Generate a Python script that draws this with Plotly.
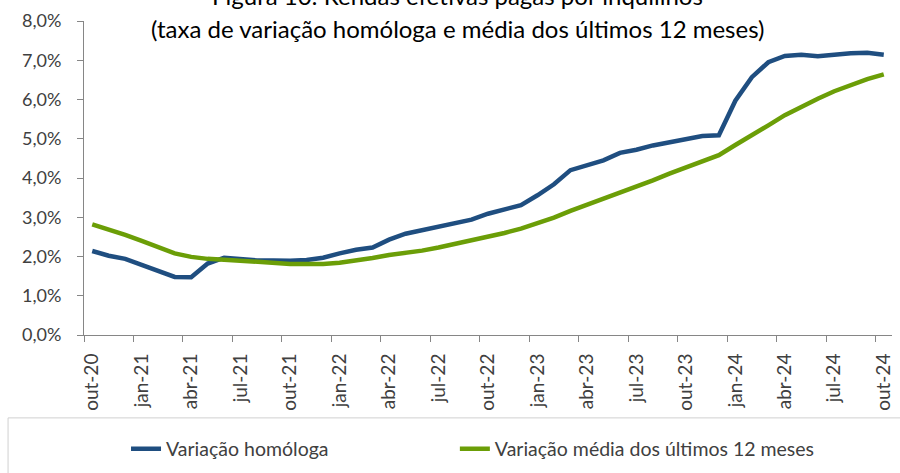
import plotly.graph_objects as go

# ── Data ──────────────────────────────────────────────────────────
months = [
    "out-20", "nov-20", "dez-20", "jan-21", "fev-21", "mar-21", "abr-21", "mai-21", "jun-21",
    "jul-21", "ago-21", "set-21", "out-21", "nov-21", "dez-21", "jan-22", "fev-22", "mar-22",
    "abr-22", "mai-22", "jun-22", "jul-22", "ago-22", "set-22", "out-22", "nov-22", "dez-22",
    "jan-23", "fev-23", "mar-23", "abr-23", "mai-23", "jun-23", "jul-23", "ago-23", "set-23",
    "out-23", "nov-23", "dez-23", "jan-24", "fev-24", "mar-24", "abr-24", "mai-24", "jun-24",
    "jul-24", "ago-24", "set-24", "out-24",
]

var_homologa = [
    2.14, 2.02, 1.94, 1.79, 1.63, 1.48, 1.47, 1.82, 1.97, 1.94, 1.90, 1.90, 1.89,
    1.91, 1.97, 2.08, 2.17, 2.23, 2.43, 2.58, 2.67, 2.76, 2.86, 2.94, 3.09,
    3.20, 3.31, 3.56, 3.84, 4.20, 4.34, 4.45, 4.64, 4.72, 4.83, 4.91, 4.98,
    5.07, 5.09, 5.97, 6.57, 6.95, 7.11, 7.14, 7.10, 7.14, 7.18, 7.19, 7.14,
]

var_media_12m = [
    2.82, 2.69, 2.55, 2.40, 2.25, 2.08, 1.99, 1.94, 1.92, 1.89, 1.86, 1.83, 1.81,
    1.81, 1.81, 1.84, 1.89, 1.96, 2.04, 2.09, 2.15, 2.23, 2.32, 2.42, 2.51,
    2.60, 2.71, 2.84, 2.99, 3.16, 3.31, 3.47, 3.64, 3.79, 3.94, 4.11, 4.27,
    4.43, 4.58, 4.84, 5.08, 5.34, 5.60, 5.82, 6.02, 6.21, 6.38, 6.52, 6.64,
]

series_names = ["Variação homóloga", "Variação média dos últimos 12 meses"]
yticks = [0, 1, 2, 3, 4, 5, 6, 7, 8]
ytick_labels = [f"{v:.1f}%".replace(".", ",") for v in yticks]

# ── Styling ───────────────────────────────────────────────────────
BLUE = "#1F4E80"
GREEN = "#6B9E07"
AXIS = "#868686"
TEXT = "#404040"
FONT = "Lato"

idx = list(range(len(months)))
label_idx = idx[::3]

fig = go.Figure()
for vals, name, color, leg in [(var_homologa, series_names[0], BLUE, "legend"),
                               (var_media_12m, series_names[1], GREEN, "legend2")]:
    fig.add_trace(go.Scatter(
        x=idx, y=vals, name=name, mode="lines", legend=leg,
        line=dict(color=color, width=4.5),
        hovertemplate="%{text}: %{y:.1f}%<extra>" + name + "</extra>",
        text=months,
    ))

legend_style = dict(
    orientation="h", xanchor="left", y=-0.363, yanchor="middle",
    font=dict(size=19.5, color=TEXT, family=FONT), bgcolor="rgba(0,0,0,0)",
)

fig.update_layout(
    width=900, height=473,
    margin=dict(l=84, r=8, t=21, b=138, autoexpand=False),
    plot_bgcolor="white", paper_bgcolor="white",
    font=dict(family=FONT, color=TEXT),
    showlegend=True,
    legend=dict(x=0.052, **legend_style),
    legend2=dict(x=0.459, **legend_style),
)

fig.update_xaxes(
    range=[-0.5, 48.5], showgrid=False, zeroline=False,
    showline=True, linecolor=AXIS, linewidth=1,
    tickmode="array", tickvals=label_idx, ticktext=[months[i] for i in label_idx],
    ticks="", tickangle=-90, ticklabelstandoff=10,
    tickfont=dict(size=19, color=TEXT, family=FONT),
    minor=dict(tickmode="array", tickvals=[i - 0.5 for i in label_idx],
               ticks="outside", ticklen=6, tickcolor=AXIS, tickwidth=1),
)

fig.update_yaxes(
    range=[0, 8], showgrid=False, zeroline=False,
    showline=True, linecolor=AXIS, linewidth=1,
    tickmode="array", tickvals=yticks, ticktext=ytick_labels,
    ticks="outside", ticklen=6, tickcolor=AXIS, ticklabelstandoff=12,
    tickfont=dict(size=18, color=TEXT, family=FONT),
)

# Title (first line partly cut off at the top, as in the source)
fig.add_annotation(
    xref="paper", yref="paper", x=0.462, y=1.08, yanchor="middle",
    text="Figura 10: Rendas efetivas pagas por inquilinos",
    showarrow=False, font=dict(size=24, color="black", family=FONT),
)
fig.add_annotation(
    xref="paper", yref="paper", x=0.462, y=0.975, yanchor="middle",
    text="(taxa de variação homóloga e média dos últimos 12 meses)",
    showarrow=False, font=dict(size=24, color="black", family=FONT),
)

# Legend frame
fig.add_shape(
    type="rect", xref="paper", yref="paper",
    x0=-0.094, x1=1.2, y0=-0.264, y1=-0.8,
    line=dict(color="#D0D0D0", width=1), fillcolor="rgba(0,0,0,0)", layer="below",
)

fig.write_html(
    "out.html",
    config={"displayModeBar": False},
    post_script="document.body.style.margin='0';",
)
